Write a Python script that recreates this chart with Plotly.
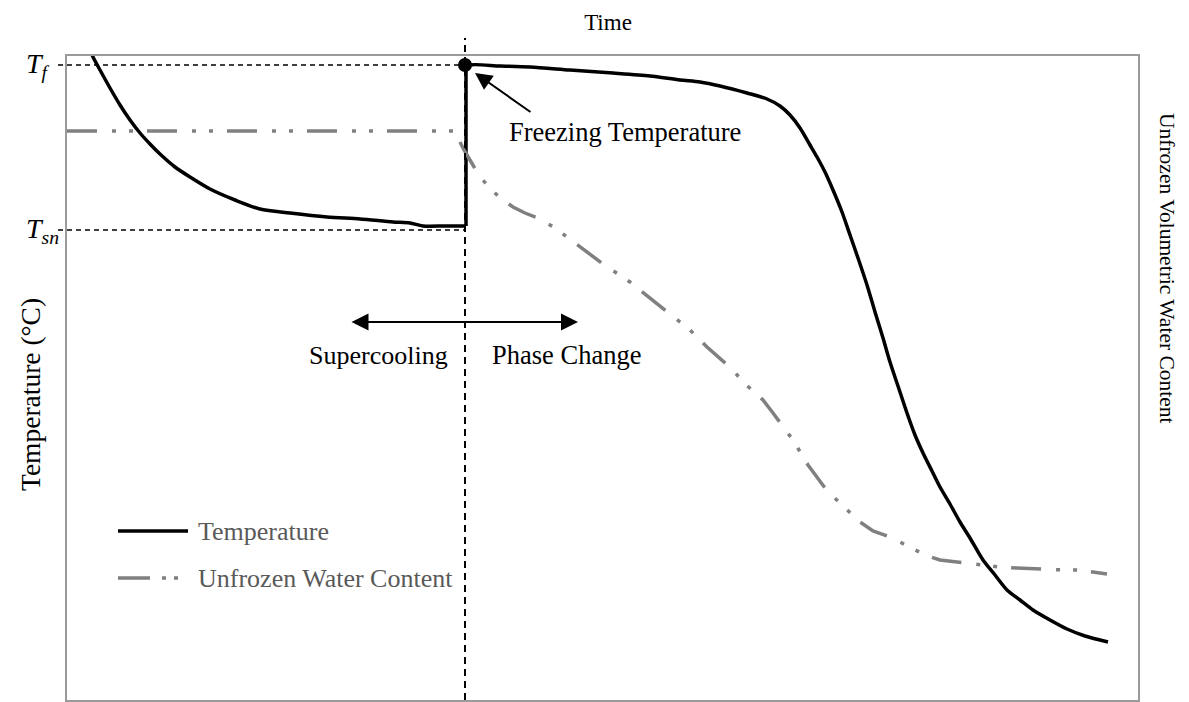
import plotly.graph_objects as go

# ---------------- data (time / relative temperature units) ----------------
time_temp = [24, 26, 33, 43, 53, 63, 73, 83, 93, 108, 123, 143, 168, 193, 223, 260, 293, 326, 343, 356, 378, 399,
             399, 403, 433, 463, 503, 546, 583, 613, 633, 653, 680, 700, 713, 723, 733, 743, 750, 758, 766,
             775, 783, 791, 800, 808, 816, 823, 833, 840, 848, 856, 865, 873, 883, 893, 903, 916, 928, 940,
             953, 966, 983, 1000, 1018, 1041]
temperature = [648, 643, 630, 612, 595, 580, 567, 556, 546, 533, 523, 511, 500, 491, 487, 483, 481, 478, 477, 474,
               474, 474,
               632, 635, 634, 633, 630, 627, 624, 620, 618, 614, 607, 601, 594, 585, 572, 555, 543, 528, 510,
               488, 465, 442, 415, 388, 362, 338, 308, 287, 265, 247, 229, 213, 196, 178, 162, 140, 125, 110,
               100, 90, 80, 71, 64, 58]

time_water = [0, 388, 391, 397, 403, 413, 423, 433, 446, 458, 473, 488, 500, 513, 523, 536, 548, 563, 573, 583,
              595, 608, 623, 640, 653, 666, 676, 686, 696, 706, 716, 726, 741, 751, 761, 773, 783, 793, 806,
              820, 833, 846, 858, 873, 890, 903, 916, 933, 950, 968, 983, 998, 1010, 1025, 1040]
water = [569, 569, 562, 550, 540, 523, 512, 502, 493, 487, 481, 472, 463, 453, 445, 436, 428, 418, 410, 402,
         393, 383, 370, 353, 342, 330, 318, 309, 300, 287, 273, 260, 235, 222, 208, 197, 187, 178, 169,
         164, 158, 151, 145, 140, 138, 136, 135, 133, 132, 131, 130, 130, 130, 128, 126]

t_freeze = 398          # time of nucleation
T_f = 635               # freezing temperature
T_sn = 470              # supercooling (nucleation) temperature
supercool_start, phase_change_end, span_level = 283, 511, 378

X_RANGE = [0, 1071]
Y_RANGE = [0, 644]

FONT = "Liberation Serif"


def xp(v):
    return (v - X_RANGE[0]) / (X_RANGE[1] - X_RANGE[0])


def yp(v):
    return (v - Y_RANGE[0]) / (Y_RANGE[1] - Y_RANGE[0])


PW = 1071.0  # plot width in px
PH = 644.0   # plot height in px

fig = go.Figure()

# temperature: before nucleation, jump, after nucleation (same data, smooth segments)
jump = time_temp.index(399)
fig.add_trace(go.Scatter(x=time_temp[:jump + 1], y=temperature[:jump + 1], mode="lines",
                         line=dict(color="black", width=3.5, shape="spline", smoothing=0.8),
                         name="Temperature", showlegend=False, hoverinfo="skip"))
fig.add_trace(go.Scatter(x=time_temp[jump:jump + 2], y=temperature[jump:jump + 2], mode="lines",
                         line=dict(color="black", width=3.5), showlegend=False, hoverinfo="skip"))
fig.add_trace(go.Scatter(x=time_temp[jump + 1:], y=temperature[jump + 1:], mode="lines",
                         line=dict(color="black", width=3.5, shape="spline", smoothing=0.8),
                         showlegend=False, hoverinfo="skip"))
fig.add_trace(go.Scatter(x=time_water, y=water, mode="lines", yaxis="y2",
                         line=dict(color="#808080", width=3.5, dash="30px,15px,4px,13px,4px,14px"),
                         name="Unfrozen Water Content", showlegend=False, hoverinfo="skip"))
fig.add_trace(go.Scatter(x=[t_freeze], y=[T_f], mode="markers",
                         marker=dict(color="black", size=14), showlegend=False, hoverinfo="skip",
                         cliponaxis=False))

shapes = []
# horizontal guide lines T_f and T_sn
for lvl in (T_f, T_sn):
    shapes.append(dict(type="line", xref="paper", yref="paper",
                       x0=xp(0) - 9 / PW, x1=xp(t_freeze), y0=yp(lvl), y1=yp(lvl),
                       line=dict(color="black", width=1.5, dash="5px,4px")))
# vertical guide line at nucleation
shapes.append(dict(type="line", xref="paper", yref="paper",
                   x0=xp(t_freeze), x1=xp(t_freeze), y0=0, y1=1 + 18 / PH,
                   line=dict(color="black", width=2, dash="7px,5px")))
# legend samples
leg_y1 = 1 - (531 - 56) / PH
leg_y2 = 1 - (578 - 56) / PH
shapes.append(dict(type="line", xref="paper", yref="paper",
                   x0=51 / PW, x1=121 / PW, y0=leg_y1, y1=leg_y1,
                   line=dict(color="black", width=3.5)))
shapes.append(dict(type="line", xref="paper", yref="paper",
                   x0=51 / PW, x1=113 / PW, y0=leg_y2, y1=leg_y2,
                   line=dict(color="#808080", width=3.5, dash="32px,12px,4px,8px,4px,14px")))

annotations = [
    dict(text="<i>T</i><sub><i>f</i></sub>", xref="paper", yref="paper", x=-43 / PW, y=yp(T_f),
         xanchor="left", yanchor="middle", showarrow=False, font=dict(family=FONT, size=28, color="black")),
    dict(text="<i>T</i><sub><i>sn</i></sub>", xref="paper", yref="paper", x=-43 / PW, y=yp(T_sn),
         xanchor="left", yanchor="middle", showarrow=False, font=dict(family=FONT, size=28, color="black")),
    dict(text="Freezing Temperature", x=558, y=568, xref="x", yref="y", showarrow=False,
         xanchor="center", yanchor="middle", font=dict(family=FONT, size=26.5, color="black")),
    dict(text="", x=t_freeze + 10, y=T_f - 8, xref="x", yref="y", showarrow=True,
         ax=57, ay=40, arrowhead=2, arrowsize=1.7, arrowwidth=2, arrowcolor="black"),
    dict(text="", x=phase_change_end, y=span_level, xref="x", yref="y", showarrow=True,
         axref="x", ayref="y", ax=supercool_start, ay=span_level, arrowhead=2, arrowside="end+start",
         arrowsize=1.7, arrowwidth=2, arrowcolor="black"),
    dict(text="Supercooling", x=311, y=345, xref="x", yref="y", showarrow=False,
         xanchor="center", yanchor="middle", font=dict(family=FONT, size=26, color="black")),
    dict(text="Phase Change", x=499, y=345, xref="x", yref="y", showarrow=False,
         xanchor="center", yanchor="middle", font=dict(family=FONT, size=26.5, color="black")),
    dict(text="Temperature (°C)", xref="paper", yref="paper", x=-37 / PW, y=1 - (395 - 56) / PH,
         xanchor="center", yanchor="middle",
         textangle=-90, showarrow=False, font=dict(family=FONT, size=27.5, color="black")),
    dict(text="Unfrozen Volumetric Water Content", xref="paper", yref="paper", x=1 + 29 / PW,
         y=1 - (268 - 56) / PH, xanchor="center", yanchor="middle", textangle=90, showarrow=False,
         font=dict(family=FONT, size=21.5, color="black")),
    dict(text="Temperature", xref="paper", yref="paper", x=129 / PW, y=leg_y1, xanchor="left",
         yanchor="middle", showarrow=False, font=dict(family=FONT, size=26, color="#595959")),
    dict(text="Unfrozen Water Content", xref="paper", yref="paper", x=129 / PW, y=leg_y2, xanchor="left",
         yanchor="middle", showarrow=False, font=dict(family=FONT, size=26, color="#595959")),
]

axis_common = dict(showgrid=False, zeroline=False, showticklabels=False, ticks="")
fig.update_layout(
    width=1189, height=702,
    margin=dict(l=67, r=51, t=56, b=2),
    paper_bgcolor="white", plot_bgcolor="white",
    title=dict(text="Time", x=608 / 1189, y=1 - 22 / 702, xanchor="center", yanchor="middle",
               font=dict(family=FONT, size=23, color="black")),
    xaxis=dict(range=X_RANGE, showline=True, linecolor="#9a9a9a", linewidth=1.5, mirror=True, **axis_common),
    yaxis=dict(range=Y_RANGE, showline=True, linecolor="#9a9a9a", linewidth=1.5, mirror=True, **axis_common),
    yaxis2=dict(range=Y_RANGE, overlaying="y", side="right", showline=False, **axis_common),
    shapes=shapes, annotations=annotations, showlegend=False,
)

fig.write_html("out.html")
